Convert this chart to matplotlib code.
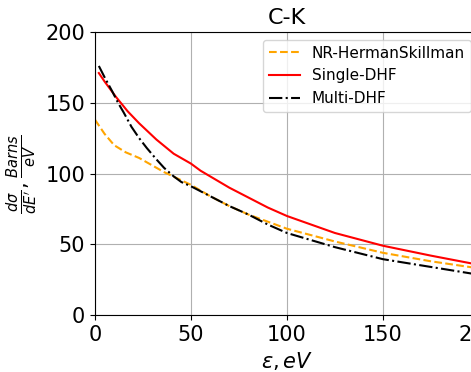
import numpy as np
import matplotlib.pyplot as plt

# energy grid (eV) and cross sections (Barns/eV)
x_nr = [0, 5, 10, 16, 23, 36, 50, 55, 60, 70, 80, 90, 100, 125, 150, 175, 200]
y_nr = [138, 128, 120, 115, 111, 101, 92, 88, 84, 77, 71, 66, 61, 52, 44, 38, 33]

x_single = [2, 5, 11, 17, 23, 32, 41, 50, 55, 60, 70, 80, 90, 100, 125, 150, 175, 200]
y_single = [171, 165, 154, 144, 135.5, 124, 114, 107, 102, 98, 90, 83, 76, 70, 58, 49, 42, 35.5]

x_multi = [2, 5, 9, 12, 15, 19, 23, 27, 32, 36, 41, 45, 50, 60, 70, 80, 90, 100, 125, 150, 175, 200]
y_multi = [176, 168, 158, 150, 143, 133, 125, 118, 110, 104, 98, 94, 91, 84, 77, 71, 64, 58, 48, 39.5, 34, 28.5]

fig = plt.figure(figsize=(4.71, 3.72), dpi=100)
ax = fig.add_axes([0.2017, 0.153, 0.815, 0.761])

ax.plot(x_nr, y_nr, color='orange', linestyle='--', label='NR-HermanSkillman')
ax.plot(x_single, y_single, color='red', linestyle='-', label='Single-DHF')
ax.plot(x_multi, y_multi, color='black', linestyle='-.', label='Multi-DHF')

ax.set_xlim(0, 200)
ax.set_ylim(0, 200)
ax.set_xticks([0, 50, 100, 150, 200])
ax.set_yticks([0, 50, 100, 150, 200])
ax.tick_params(labelsize=15)
ax.grid(True)
ax.set_title('C-K', fontsize=16)
ax.set_xlabel(r'$\varepsilon, eV$', fontsize=15)
ax.set_ylabel(r'$\frac{d\sigma}{dE^{\prime}}, \frac{Barns}{eV}$', fontsize=15)
ax.legend(fontsize=11, loc='upper right')

fig.savefig('out.png', dpi=100)
